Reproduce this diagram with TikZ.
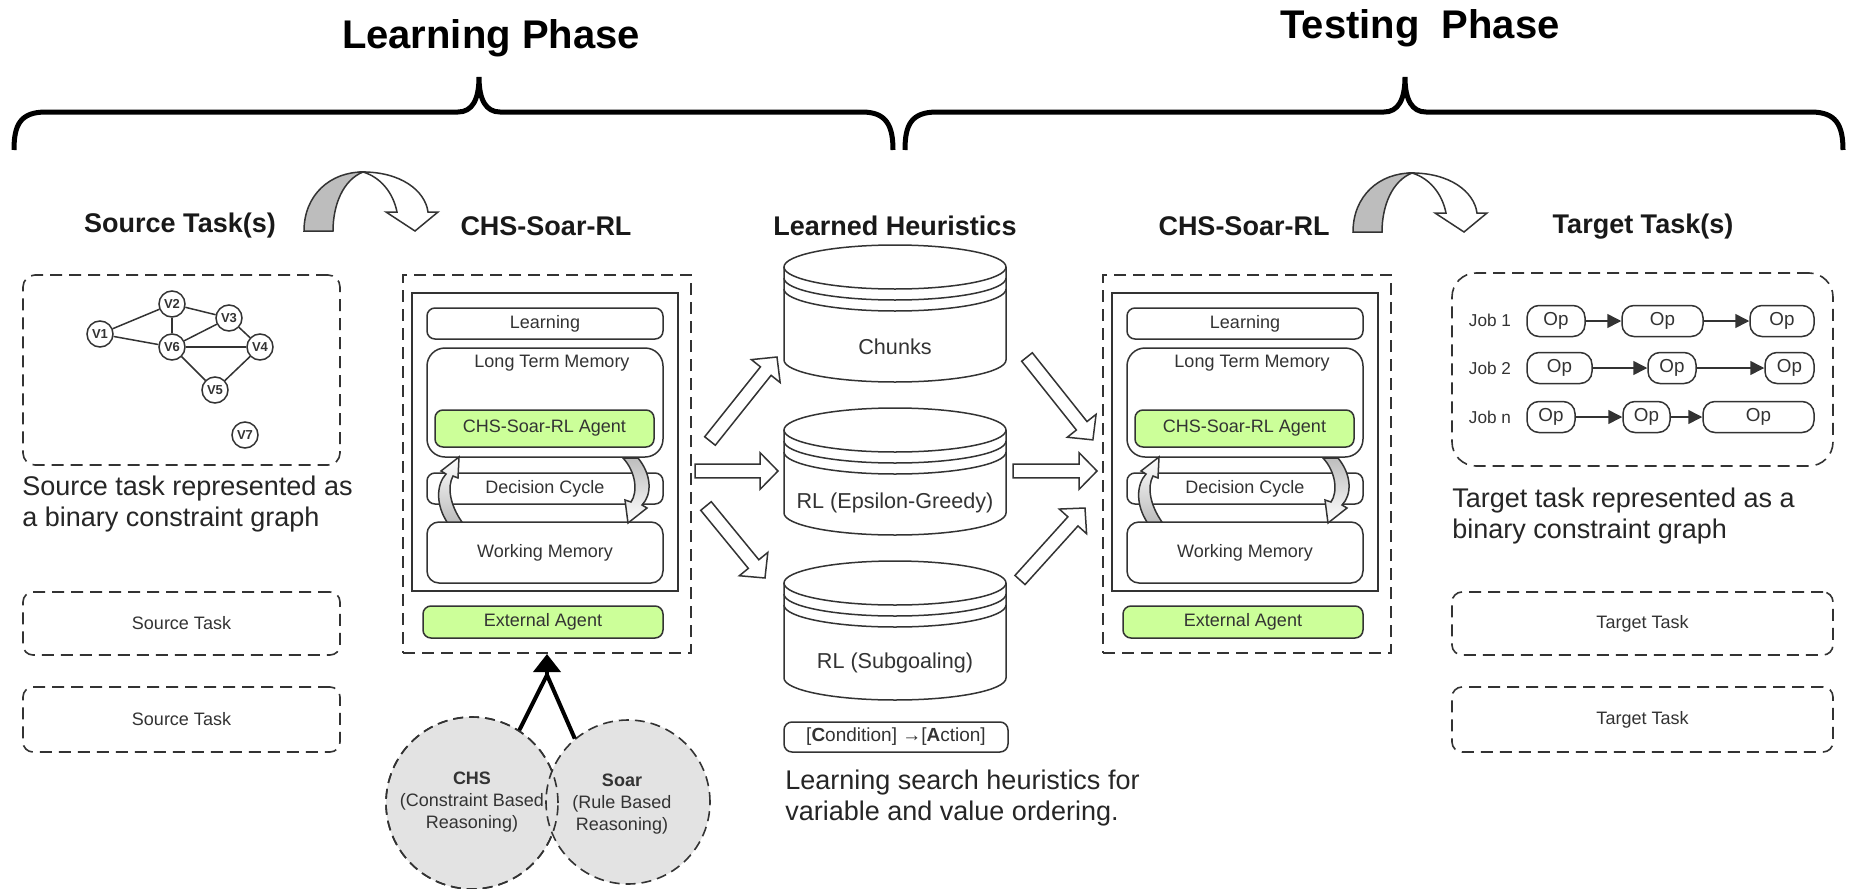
\documentclass[tikz,border=0pt]{standalone}
\usepackage{fontspec}
\setmainfont{Liberation Sans}
\usetikzlibrary{arrows.meta,calc}

\definecolor{ink}{HTML}{333333}
\definecolor{agentgreen}{HTML}{CCFF99}
\definecolor{discgray}{HTML}{E3E3E3}
\definecolor{ribbongray}{HTML}{BDBDBD}

\tikzset{
  every node/.style={text=ink, inner sep=0pt},
  thinline/.style={draw=ink, line width=0.75pt},
  dashbox/.style={draw=ink, line width=0.8pt, dash pattern=on 6pt off 3.5pt},
  roundbox/.style={thinline, rounded corners=4pt, fill=white},
  greenbox/.style={thinline, rounded corners=4pt, fill=agentgreen},
  smalltext/.style={font=\fontsize{9}{11}\selectfont},
  heading/.style={font=\bfseries\fontsize{13.5}{16}\selectfont, text=black!90},
  phasetitle/.style={font=\bfseries\fontsize{20}{24}\selectfont, text=black},
  captiontext/.style={font=\fontsize{13.5}{15.5}\selectfont, align=left, anchor=west, text=black!85},
  vnode/.style={circle, thinline, fill=white, minimum size=13pt, font=\bfseries\fontsize{6.5}{7}\selectfont},
  opbox/.style={thinline, rounded corners=6pt, minimum height=15.5pt, font=\fontsize{9.4}{11}\selectfont},
  joblabel/.style={font=\fontsize{8.6}{10}\selectfont},
  jobarrow/.style={draw=ink, line width=0.75pt, -{Triangle[length=7pt,width=7pt]}},
  bracestroke/.style={draw=black, line width=2.5pt},
  blockarrowstyle/.style={draw=ink, fill=white, line width=0.75pt, line join=miter},
  disc/.style={circle, draw=ink, line width=0.8pt, dash pattern=on 5pt off 3pt, fill=discgray},
  disctext/.style={font=\fontsize{9}{11}\selectfont, align=center},
  drumtext/.style={font=\fontsize{10.8}{13}\selectfont},
}

% hollow block arrow from one named coordinate to another
\newcommand\blockarrow[2]{%
  \draw[blockarrowstyle] let \p1=($(#2)-(#1)$), \n1={atan2(\y1,\x1)}, \n2={veclen(\x1,\y1)} in
    [shift={(#1)}, rotate=\n1]
    (0pt,-3.4pt) -- ({\n2-9pt},-3.4pt) -- ({\n2-9pt},-9.2pt) -- (\n2,0pt)
    -- ({\n2-9pt},9.2pt) -- ({\n2-9pt},3.4pt) -- (0pt,3.4pt) -- cycle;}

% curved ribbon arrow between two headings
\newcommand\ribbon[1]{%
  \begin{scope}[shift={(#1)}]
    \draw[thinline, fill=ribbongray] (304,231) .. controls (304,195) and (330,172) .. (363,172)
      .. controls (343,180) and (333,205) .. (333,231) -- cycle;
    \draw[thinline, fill=white] (363,172) .. controls (400,172) and (425,190) .. (428,212)
      -- (438,212) -- (415,231) -- (386,212) -- (397,212)
      .. controls (393,192) and (380,177) .. (363,172) -- cycle;
  \end{scope}}

% database drum: name, top centre y, bottom centre y, label y, label
\newcommand\drum[5]{%
  \draw[thinline, fill=white] (784,#2) -- (784,#3)
     .. controls (784,{#3+12.15}) and (833.7,{#3+22}) .. (895,{#3+22})
     .. controls (956.3,{#3+22}) and (1006,{#3+12.15}) .. (1006,#3) -- (1006,#2);
  \draw[thinline, fill=white] (895,#2) ellipse [x radius=55.5pt, y radius=11pt];
  \foreach \off in {11,22}{
    \draw[thinline] (784,{#2+\off})
      .. controls (784,{#2+\off+12.15}) and (833.7,{#2+\off+22}) .. (895,{#2+\off+22})
      .. controls (956.3,{#2+\off+22}) and (1006,{#2+\off+12.15}) .. (1006,{#2+\off});}
  \node[drumtext] (#1) at (895,#4) {#5};}

% CHS-Soar-RL architecture block: name prefix, horizontal offset
\newcommand\chsunit[2]{%
  \begin{scope}[shift={(#2,0)}]
    \node[dashbox, minimum width=144pt, minimum height=189pt] (#1-frame) at (547,464) {};
    \node[thinline, line width=1pt, minimum width=133pt, minimum height=149pt] (#1-core) at (545,442) {};
    \node[roundbox, smalltext, minimum width=118pt, minimum height=15.5pt] (#1-learn) at (545,323.5) {Learning};
    \node[roundbox, rounded corners=9pt, minimum width=118pt, minimum height=54.5pt] (#1-ltm) at (545,402.5) {};
    \node[smalltext] (#1-ltmlabel) at (552,363) {Long Term Memory};
    \node[greenbox, smalltext, minimum width=109.5pt, minimum height=18.5pt] (#1-agent) at (544.5,428.5) {CHS-Soar-RL Agent};
    \node[roundbox, smalltext, minimum width=118pt, minimum height=15.5pt] (#1-cycle) at (545,488.5) {Decision Cycle};
    \node[roundbox, rounded corners=6pt, smalltext, minimum width=118pt, minimum height=30.5pt] (#1-wm) at (545,552.5) {Working Memory};
    \node[greenbox, smalltext, minimum width=120pt, minimum height=16pt] (#1-ext) at (543,622) {External Agent};
    % decision-cycle ribbons: up on the left, down on the right
    \draw[thinline, top color=white, bottom color=ribbongray]
      (447,522) .. controls (436,505) and (436,485) .. (446,474) -- (441,471) -- (459,457)
      -- (458,478) -- (453,476) .. controls (447,487) and (450,505) .. (462,522) -- cycle;
    \draw[thinline, top color=ribbongray, bottom color=white]
      (623,458) -- (638,458) .. controls (652,475) and (652,495) .. (642,505) -- (647,508)
      -- (628,523) -- (625,500) -- (631,502) .. controls (638,492) and (636,472) .. (623,458) -- cycle;
  \end{scope}}

\begin{document}
\begin{tikzpicture}[x=0.5pt,y=-0.5pt]
\useasboundingbox (0,0) rectangle (1854,889);
\fill[white] (0,0) rectangle (1854,889);

% phases
\node[phasetitle] (learnphase) at (491,38) {Learning Phase};
\node[phasetitle] (testphase) at (1420,28) {Testing\ \ Phase};
\draw[bracestroke] (14,150) .. controls (14,125) and (20,112) .. (46,112) -- (458,112)
  .. controls (472,112) and (479,100) .. (479,77) .. controls (479,100) and (486,112) .. (500,112)
  -- (862,112) .. controls (886,112) and (893,125) .. (893,150);
\draw[bracestroke] (905,150) .. controls (905,125) and (911,112) .. (937,112) -- (1384,112)
  .. controls (1398,112) and (1405,100) .. (1405,77) .. controls (1405,100) and (1412,112) .. (1426,112)
  -- (1811,112) .. controls (1836,112) and (1843,125) .. (1843,150);

% column headings
\node[heading] (t-src) at (180,226) {Source Task(s)};
\node[heading] (t-chsl) at (546,226) {CHS-Soar-RL};
\node[heading] (t-heur) at (895,226) {Learned Heuristics};
\node[heading] (t-chsr) at (1244,226) {CHS-Soar-RL};
\node[heading] (t-tgt) at (1643,227) {Target Task(s)};
\ribbon{0,0}
\ribbon{1049,1}

% source tasks
\node[dashbox, rounded corners=6pt, minimum width=158.5pt, minimum height=95pt] (srcgraph) at (181.5,370) {};
\node[vnode] (v1) at (100,334) {V1};
\node[vnode] (v2) at (172,304) {V2};
\node[vnode] (v3) at (229,318) {V3};
\node[vnode] (v6) at (172,347) {V6};
\node[vnode] (v4) at (260,347) {V4};
\node[vnode] (v5) at (215,390) {V5};
\node[vnode] (v7) at (245,435) {V7};
\foreach \a/\b in {v1/v2, v1/v6, v2/v6, v2/v3, v3/v6, v3/v4, v6/v4, v6/v5, v4/v5}
  \draw[thinline] (\a) -- (\b);
\node[captiontext] (srccap) at (22,504) {Source task represented as\\a binary constraint graph};
\node[dashbox, rounded corners=5pt, smalltext, minimum width=158.5pt, minimum height=31.5pt] (src1) at (181.5,623.5) {Source Task};
\node[dashbox, rounded corners=5pt, smalltext, minimum width=158.5pt, minimum height=32.5pt] (src2) at (181.5,719.5) {Source Task};

% architecture blocks
\chsunit{lchs}{0}
\chsunit{rchs}{700}

% reasoning components feeding the left block
\node[disc, minimum size=86pt] (chs) at (472,803) {};
\node[disc, minimum size=82pt] (soar) at (628,802) {};
\draw[draw=ink, line width=0.8pt, dash pattern=on 5pt off 3pt] (chs.center) circle[radius=43pt];
\node[disctext] (chstext) at (472,802) {\textbf{CHS}\\(Constraint Based\\Reasoning)};
\node[disctext] (soartext) at (622,804) {\textbf{Soar}\\(Rule Based\\Reasoning)};
\coordinate (merge) at (547,675);
\coordinate (mergetip) at (547,654);
\draw[line width=2pt, line join=round] (chs.57) -- (merge) -- (soar.130);
\draw[line width=2pt, -{Triangle[length=9pt,width=13.5pt]}] (merge) -- (mergetip);

% learned heuristics
\drum{chunks}{267}{360}{347}{Chunks}
\drum{greedy}{430}{513}{503}{RL (Epsilon-Greedy)}
\drum{subgoal}{583}{678}{663}{RL (Subgoaling)}
\node[roundbox, font=\fontsize{9.5}{11}\selectfont, minimum width=112pt, minimum height=15pt] (rule) at (896,737)
  {[\textbf{C}ondition] →[\textbf{A}ction]};
\node[captiontext] (heurcap) at (785,798) {Learning search heuristics for\\variable and value ordering.};

% block arrows into and out of the heuristics
\coordinate (la1) at (710,441);  \coordinate (la1e) at (777,357);
\coordinate (la2) at (695,471);  \coordinate (la2e) at (778,471);
\coordinate (la3) at (706,506);  \coordinate (la3e) at (765,578);
\coordinate (ra1) at (1027,357); \coordinate (ra1e) at (1093,440);
\coordinate (ra2) at (1013,471); \coordinate (ra2e) at (1097,471);
\coordinate (ra3) at (1020,580); \coordinate (ra3e) at (1085,508);
\blockarrow{la1}{la1e}
\blockarrow{la2}{la2e}
\blockarrow{la3}{la3e}
\blockarrow{ra1}{ra1e}
\blockarrow{ra2}{ra2e}
\blockarrow{ra3}{ra3e}

% target tasks
\node[dashbox, rounded corners=12pt, minimum width=190.5pt, minimum height=96.5pt] (tgtgraph) at (1642.5,369.5) {};
\node[joblabel] (job1) at (1490,320) {Job 1};
\node[joblabel] (job2) at (1490,368) {Job 2};
\node[joblabel] (jobn) at (1490,417) {Job n};
\node[opbox, minimum width=29pt] (j1a) at (1556,321) {Op};
\node[opbox, minimum width=40.5pt] (j1b) at (1662.5,321) {Op};
\node[opbox, minimum width=32pt] (j1c) at (1782,321) {Op};
\node[opbox, minimum width=32.5pt] (j2a) at (1559.5,368) {Op};
\node[opbox, minimum width=24pt] (j2b) at (1672,368) {Op};
\node[opbox, minimum width=24.5pt] (j2c) at (1789.5,368) {Op};
\node[opbox, minimum width=24pt] (jna) at (1551,417) {Op};
\node[opbox, minimum width=23.5pt] (jnb) at (1646.5,417) {Op};
\node[opbox, minimum width=55.5pt] (jnc) at (1758.5,417) {Op};
\draw[jobarrow] (j1a) -- (j1b);
\draw[jobarrow] (j1b) -- (j1c);
\draw[jobarrow] (j2a) -- (j2b);
\draw[jobarrow] (j2b) -- (j2c);
\draw[jobarrow] (jna) -- (jnb);
\draw[jobarrow] (jnb) -- (jnc);
\node[captiontext] (tgtcap) at (1452,516) {Target task represented as a\\binary constraint graph};
\node[dashbox, rounded corners=5pt, smalltext, minimum width=190.5pt, minimum height=31.5pt] (tgt1) at (1642.5,623.5) {Target Task};
\node[dashbox, rounded corners=5pt, smalltext, minimum width=190.5pt, minimum height=32.5pt] (tgt2) at (1642.5,719.5) {Target Task};
\end{tikzpicture}
\end{document}
